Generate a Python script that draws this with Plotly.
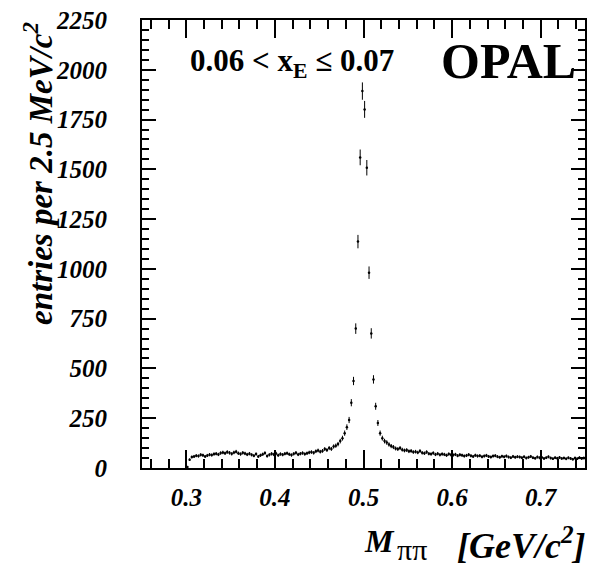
import numpy as np
import plotly.graph_objects as go

# Bin centres: 2.5 MeV bins from 0.300 to 0.750 GeV
bin_lo = 0.300
bin_w = 0.0025
counts = [
    5, 42, 55, 58,
    62, 60, 66, 64, 58, 63, 67, 65,
    70, 72, 68, 75, 78, 74, 80, 76, 71, 78, 82, 74,
    70, 76, 73, 68, 72, 66, 62, 70, 58, 64, 69, 75, 60, 66, 71, 68,
    73, 64, 70, 67, 72, 74, 69, 65, 71, 76, 68, 72, 75, 70, 74, 78,
    80, 76, 84, 88, 82, 86, 95, 90, 100, 96, 108, 112, 120, 135, 150, 175, 205,
    241, 328, 437, 700, 1137, 1560, 1893, 1801, 1508, 981, 676, 445, 310, 226,
    175, 150, 135, 128, 118, 110, 105, 98, 95, 100, 92, 88, 90, 84, 86, 80,
    82, 78, 85, 76, 74, 80, 72, 70, 75, 68, 72, 66, 70, 68, 64, 70, 66,
    65, 68, 62, 66, 64, 60, 63, 67, 61, 58, 64, 60, 62, 56, 60, 63, 58, 55, 60, 62,
    57, 54, 59, 56, 60, 55, 52, 58, 54, 57,
    55, 52, 56, 50, 54, 58, 52, 49, 55, 51, 53, 48, 52, 56, 50, 47, 52, 49, 53, 48,
    50, 46, 51, 48, 44, 50, 47, 52, 48, 50,
]
centres = [bin_lo + bin_w * (k + 0.5) for k in range(len(counts))]
errors = [float(np.sqrt(c)) for c in counts]

x_ticks = [0.3, 0.4, 0.5, 0.6, 0.7]
y_ticks = [0, 250, 500, 750, 1000, 1250, 1500, 1750, 2000, 2250]

SERIF = "Liberation Serif"

fig = go.Figure()
fig.add_trace(go.Scatter(
    x=centres, y=counts, mode="markers",
    marker=dict(color="black", size=2.5, symbol="circle"),
    error_y=dict(type="data", array=errors, visible=True, color="black",
                 thickness=1, width=0),
    showlegend=False,
))

tickfont = dict(family=SERIF, size=25, color="black", weight="bold", style="italic")

fig.update_layout(
    width=594, height=565,
    margin=dict(l=142, r=7, t=19, b=97),
    paper_bgcolor="white", plot_bgcolor="white",
    xaxis=dict(
        range=[0.25, 0.75], tickvals=x_ticks, ticktext=[str(v) for v in x_ticks],
        ticks="inside", ticklen=18, tickwidth=1.5, tickcolor="black",
        minor=dict(dtick=0.02, tick0=0.3, ticks="inside", ticklen=9,
                   tickwidth=1.5, tickcolor="black", showgrid=False),
        showline=True, linewidth=2, linecolor="black", mirror="allticks",
        showgrid=False, zeroline=False, tickfont=tickfont,
        ticklabelstandoff=6,
    ),
    yaxis=dict(
        range=[0, 2250], tickvals=y_ticks, ticktext=[str(v) for v in y_ticks],
        ticks="inside", ticklen=14, tickwidth=1.5, tickcolor="black",
        minor=dict(dtick=50, tick0=0, ticks="inside", ticklen=7,
                   tickwidth=1.5, tickcolor="black", showgrid=False),
        showline=True, linewidth=2, linecolor="black", mirror="allticks",
        showgrid=False, zeroline=False, tickfont=tickfont,
        ticklabelstandoff=28,
    ),
)

fig.add_annotation(
    xref="paper", yref="paper", x=-0.236, y=1.0, xanchor="center", yanchor="top",
    text="entries per 2.5 MeV/c<sup>2</sup>", textangle=-90, showarrow=False,
    font=dict(family=SERIF, size=33, color="black", weight="bold", style="italic"),
)
fig.add_annotation(
    xref="paper", yref="paper", x=0.574, y=-0.164, xanchor="right", yanchor="middle",
    text="<i><b>M</b></i>", showarrow=False,
    font=dict(family=SERIF, size=32, color="black"),
    borderpad=0,
)
fig.add_annotation(
    xref="paper", yref="paper", x=0.573, y=-0.183, xanchor="left", yanchor="middle",
    text="ππ", showarrow=False,
    font=dict(family=SERIF, size=30, color="black"),
    borderpad=0,
)
fig.add_annotation(
    xref="paper", yref="paper", x=1.004, y=-0.168, xanchor="right", yanchor="middle",
    text="<i><b>[GeV/c<sup>2</sup>]</b></i>",
    showarrow=False,
    font=dict(family=SERIF, size=36, color="black"),
    borderpad=0,
)
fig.add_annotation(
    xref="paper", yref="paper", x=0.103, y=0.904, xanchor="left", yanchor="middle",
    text="<b>0.06 &lt; x<sub>E</sub> ≤ 0.07</b>", showarrow=False,
    font=dict(family=SERIF, size=31, color="black"),
)
fig.add_annotation(
    xref="paper", yref="paper", x=0.985, y=0.908, xanchor="right", yanchor="middle",
    text="<b>OPAL</b>", showarrow=False,
    font=dict(family=SERIF, size=50, color="black"),
)

fig.write_html("out.html")
